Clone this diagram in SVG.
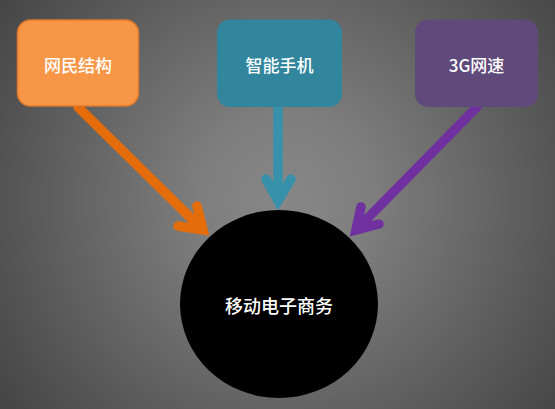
<svg xmlns="http://www.w3.org/2000/svg" width="555" height="409" viewBox="0 0 555 409">
<defs>
<radialGradient id="bg" cx="285" cy="200" r="340" gradientUnits="userSpaceOnUse">
<stop offset="0" stop-color="#878787"/>
<stop offset="0.25" stop-color="#7e7e7e"/>
<stop offset="1" stop-color="#474747"/>
</radialGradient>
<style>
.box text, .hub text { font-family: "Microsoft YaHei", "Noto Sans CJK SC", "Liberation Sans", sans-serif; fill: #ffffff; text-anchor: middle; dominant-baseline: central; font-weight: 500; }
.box text { font-size: 17px; }
.hub text { font-size: 18px; }
.arrow { fill: none; stroke-width: 9.5; stroke-linecap: round; stroke-linejoin: miter; }
</style>
</defs>
<rect width="555" height="409" fill="url(#bg)"/>
<g id="connectors">
<path class="arrow" stroke="#e46c0a" d="M78,107 L203,230 M197,206 L203,230 L178,226"/>
<path class="arrow" stroke="#3791aa" d="M278,107 L278,201 M266,179 L278,201 L291,179"/>
<path class="arrow" stroke="#7030a0" d="M477,107 L356,230 M361,207 L356,230 L379,224"/>
</g>
<g id="node-wangmin" class="box">
<rect x="17.5" y="20" width="121" height="86" rx="13" fill="#f79646" stroke="#e0782c" stroke-width="1.5"/>
<text x="78" y="64">网民结构</text>
</g>
<g id="node-zhineng" class="box">
<rect x="217" y="19.5" width="125" height="87.5" rx="13" fill="#31859c"/>
<text x="279.5" y="64">智能手机</text>
</g>
<g id="node-3g" class="box">
<rect x="415" y="19.5" width="123" height="87.5" rx="13" fill="#604a7b"/>
<text x="476.5" y="64">3G网速</text>
</g>
<g id="node-hub" class="hub">
<ellipse cx="279" cy="304" rx="99" ry="94" fill="#000000"/>
<text x="279" y="305">移动电子商务</text>
</g>
</svg>
